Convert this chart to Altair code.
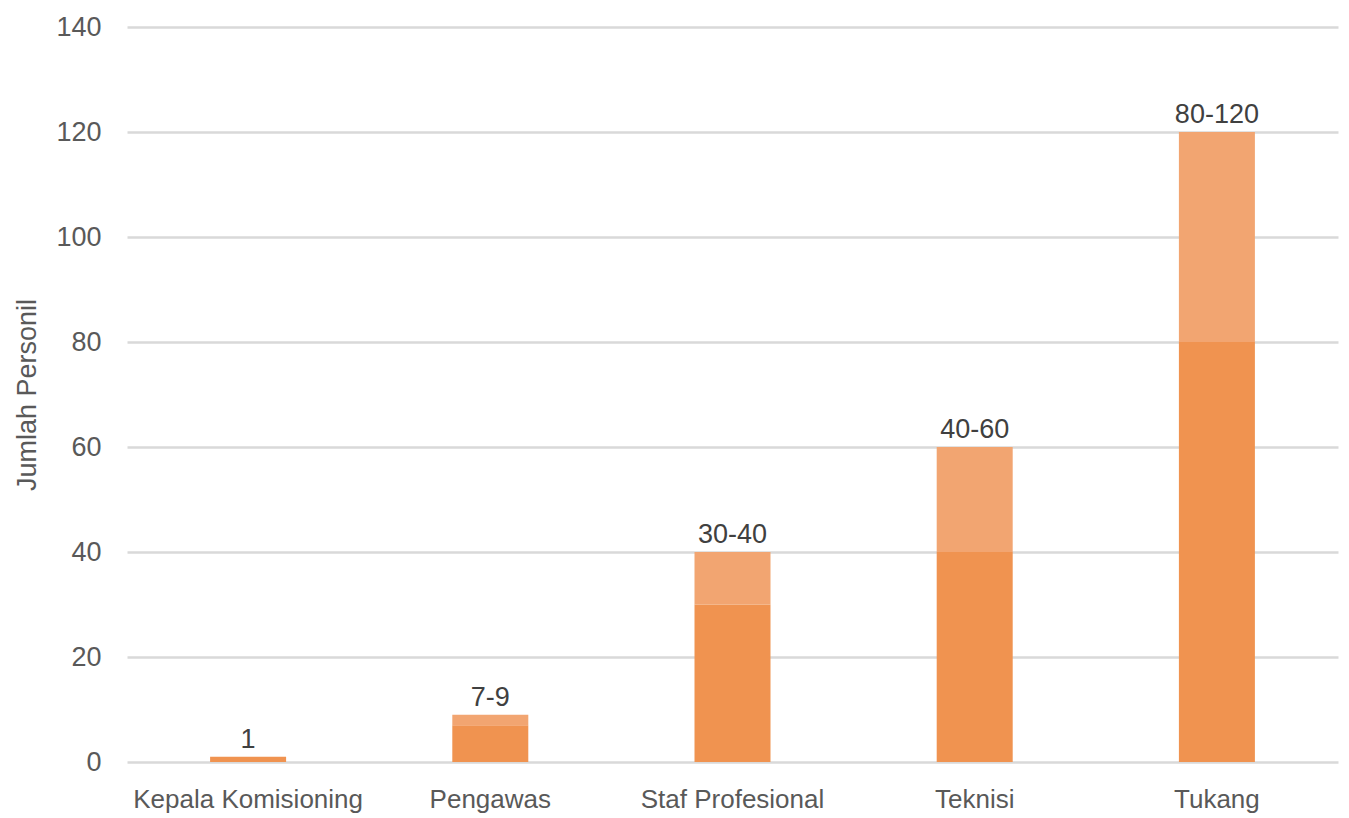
import altair as alt
import pandas as pd

categories = ["Kepala Komisioning", "Pengawas", "Staf Profesional", "Teknisi", "Tukang"]
min_values = [1, 7, 30, 40, 80]
max_values = [1, 9, 40, 60, 120]
labels = ["1", "7-9", "30-40", "40-60", "80-120"]

rows = []
for c, lo, hi, lab in zip(categories, min_values, max_values, labels):
    rows.append({"cat": c, "start": 0, "end": lo, "part": "min", "label": lab, "top": hi})
    rows.append({"cat": c, "start": lo, "end": hi, "part": "range", "label": lab, "top": hi})
df = pd.DataFrame(rows)

FONT = "Liberation Sans Narrow, Arial Narrow, Liberation Sans, sans-serif"

x = alt.X("cat:N", sort=categories, title=None,
          axis=alt.Axis(labelAngle=0, labelFontSize=26, labelColor="#595959", labelFont=FONT,
                        ticks=False, domain=False, labelPadding=24, labelLimit=0))

bars = alt.Chart(df).mark_bar(size=76).encode(
    x=x,
    y=alt.Y("start:Q", scale=alt.Scale(domain=[0, 140]), title="Jumlah Personil",
            axis=alt.Axis(values=[0, 20, 40, 60, 80, 100, 120, 140], labelFontSize=27,
                          labelColor="#595959", labelFont=FONT, titleFont=FONT,
                          titleFontSize=27, titleColor="#595959", titleFontWeight="normal",
                          ticks=False, domain=False, labelPadding=26, titlePadding=14,
                          gridColor="#d9d9d9", gridWidth=2.5)),
    y2="end:Q",
    color=alt.Color("part:N", scale=alt.Scale(domain=["min", "range"], range=["#F09350", "#F2A571"]),
                    legend=None),
)

text_df = pd.DataFrame({"cat": categories, "top": max_values, "label": labels})
texts = alt.Chart(text_df).mark_text(baseline="bottom", dy=-3, fontSize=27, color="#404040", font=FONT).encode(
    x=alt.X("cat:N", sort=categories),
    y=alt.Y("top:Q"),
    text="label:N",
)

chart = (bars + texts).properties(
    width=1211, height=735,
    autosize=alt.AutoSizeParams(type="none"),
    padding={"left": 127, "top": 27, "right": 11, "bottom": 56},
).configure_view(stroke=None).configure_scale(bandPaddingInner=0.0)

chart.save("out.html", embed_options={"renderer": "svg", "actions": False})
